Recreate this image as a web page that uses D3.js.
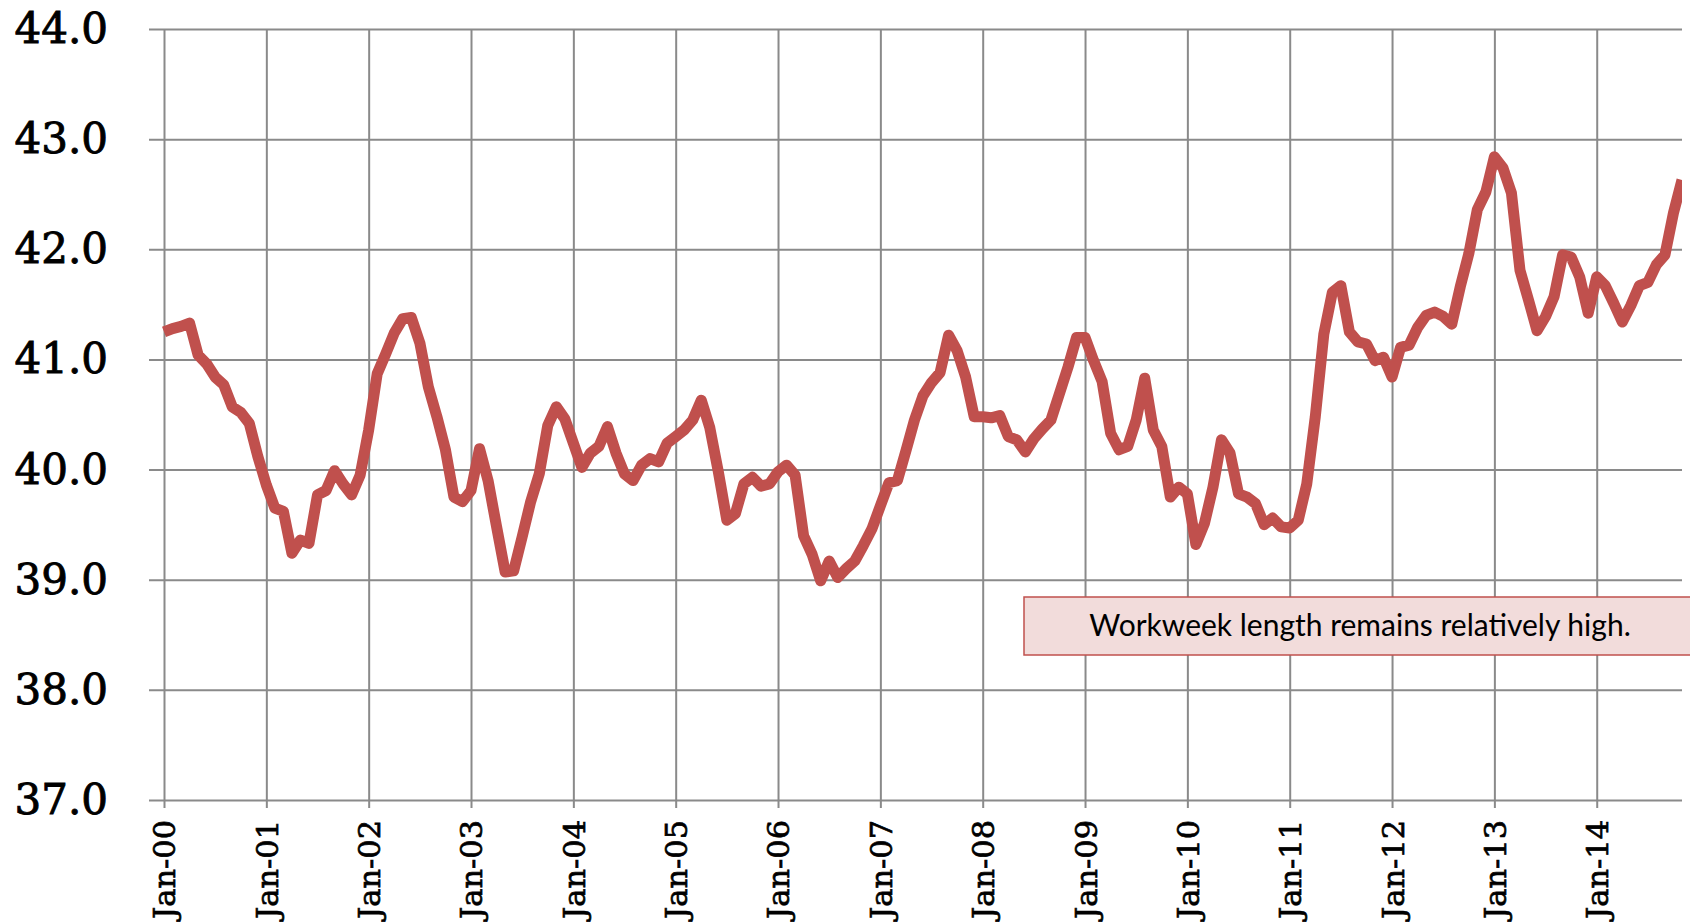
<!DOCTYPE html>
<html lang="en">
<head>
    <meta charset="UTF-8">
    <title>Average workweek</title>
    <script src="https://cdnjs.cloudflare.com/ajax/libs/d3/7.8.5/d3.min.js"></script>
    <style>
        body { margin: 0; background: #fff; }
        svg { display: block; }
        .yaxis text { font-family: "DejaVu Serif", serif; font-size: 42px; fill: #000; stroke: #000; stroke-width: 0.9px; }
        .xaxis text { font-family: "DejaVu Serif", serif; font-size: 30px; fill: #000; stroke: #000; stroke-width: 0.7px; }
        .grid line { stroke: #8a8a8a; stroke-width: 2px; }
        .note { font-family: Lato, "Open Sans", sans-serif; font-size: 30px; fill: #000; }
    </style>
</head>
<body>
<svg id="chart" width="1690" height="923"></svg>

<script>
    // x tick labels, one per January
    const yearLabels = ["Jan-00", "Jan-01", "Jan-02", "Jan-03", "Jan-04", "Jan-05", "Jan-06", "Jan-07",
        "Jan-08", "Jan-09", "Jan-10", "Jan-11", "Jan-12", "Jan-13", "Jan-14"];
    const yTicks = [37, 38, 39, 40, 41, 42, 43, 44];

    // monthly average workweek, Jan 2000 .. Nov 2014
    const hours = [
        41.25, 41.28, 41.30, 41.33, 41.04, 40.96, 40.84, 40.77, 40.57, 40.52, 40.42, 40.12,
        39.86, 39.65, 39.62, 39.24, 39.36, 39.33, 39.77, 39.81, 39.99, 39.87, 39.77, 39.95,
        40.36, 40.87, 41.05, 41.24, 41.37, 41.38, 41.15, 40.75, 40.48, 40.18, 39.75, 39.71,
        39.81, 40.19, 39.90, 39.48, 39.07, 39.08, 39.39, 39.71, 39.96, 40.40, 40.57, 40.46,
        40.24, 40.02, 40.15, 40.21, 40.39, 40.15, 39.96, 39.90, 40.04, 40.10, 40.07, 40.24,
        40.30, 40.36, 40.45, 40.63, 40.38, 39.98, 39.54, 39.60, 39.87, 39.93, 39.85, 39.87,
        39.98, 40.04, 39.95, 39.40, 39.23, 38.99, 39.17, 39.02, 39.10, 39.17, 39.31, 39.46,
        39.67, 39.88, 39.90, 40.17, 40.45, 40.67, 40.79, 40.88, 41.22, 41.08, 40.84, 40.48,
        40.48, 40.47, 40.49, 40.30, 40.27, 40.16, 40.28, 40.37, 40.45, 40.69, 40.93, 41.20,
        41.20, 40.99, 40.80, 40.33, 40.18, 40.21, 40.45, 40.83, 40.36, 40.21, 39.75, 39.84,
        39.78, 39.32, 39.51, 39.84, 40.27, 40.15, 39.78, 39.75, 39.69, 39.50, 39.56, 39.48,
        39.47, 39.54, 39.87, 40.48, 41.23, 41.61, 41.67, 41.25, 41.16, 41.14, 40.99, 41.02,
        40.84, 41.11, 41.13, 41.29, 41.40, 41.43, 41.39, 41.32, 41.66, 41.96, 42.36, 42.52,
        42.84, 42.74, 42.51, 41.81, 41.54, 41.26, 41.39, 41.57, 41.95, 41.93, 41.75, 41.42,
        41.75, 41.67, 41.51, 41.34, 41.49, 41.67, 41.70, 41.86, 41.95, 42.33, 42.63
    ];

    const noteText = "Workweek length remains relatively high.";

    const svg = d3.select("#chart");
    const plotLeft = 164, plotRight = 1682, plotTop = 29, plotBottom = 800;

    const x = d3.scaleLinear().domain([0, hours.length - 1]).range([plotLeft, plotRight]);
    const y = d3.scaleLinear().domain([37, 44]).range([plotBottom, plotTop]);

    // horizontal gridlines + y labels
    svg.append("g")
        .attr("class", "grid yaxis")
        .attr("transform", "translate(149,0)")
        .call(d3.axisLeft(y).tickValues(yTicks).tickFormat(d3.format(".1f"))
            .tickSize(-(plotRight - 149)).tickPadding(41))
        .call(g => g.select(".domain").remove());

    // vertical gridlines + rotated month labels
    const xg = svg.append("g")
        .attr("class", "grid xaxis")
        .attr("transform", "translate(0,808)")
        .call(d3.axisBottom(x).tickValues(yearLabels.map((d, i) => i * 12))
            .tickFormat((d, i) => yearLabels[i]).tickSize(-(808 - plotTop)))
        .call(g => g.select(".domain").remove());

    const xText = xg.selectAll("text")
        .attr("transform", "rotate(-90)")
        .attr("x", -12)
        .attr("y", 0)
        .attr("dy", "0.36em")
        .attr("text-anchor", "end");

    // fit the rotated labels into the ~100px below the axis
    const len = xText.node().getComputedTextLength();
    xText.style("font-size", (30 * 99 / len) + "px");

    svg.append("clipPath").attr("id", "plot")
        .append("rect").attr("x", 150).attr("y", 0).attr("width", plotRight - 150).attr("height", 923);

    svg.append("path")
        .datum(hours)
        .attr("clip-path", "url(#plot)")
        .attr("fill", "none")
        .attr("stroke", "#c0504d")
        .attr("stroke-width", 11)
        .attr("stroke-linejoin", "round")
        .attr("d", d3.line().x((d, i) => x(i)).y(d => y(d)));

    // annotation box
    const box = svg.append("g");
    box.append("rect")
        .attr("x", 1024).attr("y", 597)
        .attr("width", 671).attr("height", 58)
        .attr("fill", "#f2dcdb")
        .attr("stroke", "#c0504d")
        .attr("stroke-width", 1.5);
    box.append("text")
        .attr("class", "note")
        .attr("x", 1360).attr("y", 636)
        .attr("text-anchor", "middle")
        .text(noteText);
</script>
</body>
</html>
